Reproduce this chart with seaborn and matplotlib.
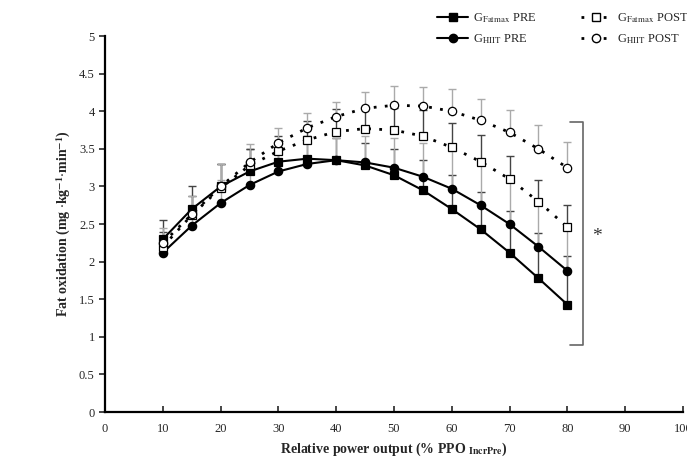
import matplotlib
matplotlib.use("Agg")
import matplotlib.pyplot as plt
import seaborn as sns
import numpy as np
import pandas as pd
from matplotlib.lines import Line2D

# data
power = [10, 15, 20, 25, 30, 35, 40, 45, 50, 55, 60, 65, 70, 75, 80]
fatmax_pre = [2.30, 2.70, 3.00, 3.20, 3.33, 3.37, 3.35, 3.28, 3.15, 2.95, 2.70, 2.43, 2.12, 1.78, 1.43]
hiit_pre = [2.12, 2.48, 2.78, 3.02, 3.20, 3.30, 3.35, 3.32, 3.25, 3.13, 2.97, 2.75, 2.50, 2.20, 1.88]
fatmax_post = [2.20, 2.62, 2.98, 3.28, 3.47, 3.62, 3.73, 3.77, 3.75, 3.67, 3.52, 3.33, 3.10, 2.80, 2.46]
hiit_post = [2.25, 2.63, 3.00, 3.32, 3.58, 3.78, 3.93, 4.04, 4.08, 4.07, 4.00, 3.88, 3.72, 3.50, 3.25]

sd_fatmax_pre = [0.25, 0.30, 0.30, 0.30, 0.28, 0.30, 0.30, 0.30, 0.35, 0.40, 0.45, 0.50, 0.55, 0.60, 0.65]
sd_hiit_pre = [0.20, 0.25, 0.30, 0.30, 0.30, 0.30, 0.30, 0.35, 0.40, 0.45, 0.50, 0.55, 0.60, 0.60, 0.60]
sd_fatmax_post = [0.20, 0.25, 0.32, 0.22, 0.20, 0.25, 0.30, 0.28, 0.30, 0.35, 0.33, 0.35, 0.30, 0.28, 0.30]
sd_hiit_post = [0.20, 0.25, 0.30, 0.25, 0.20, 0.20, 0.20, 0.22, 0.25, 0.25, 0.30, 0.28, 0.30, 0.32, 0.34]

labels = [r"G$_{\mathrm{Fatmax}}$ PRE", r"G$_{\mathrm{HIIT}}$ PRE",
          r"G$_{\mathrm{Fatmax}}$ POST", r"G$_{\mathrm{HIIT}}$ POST"]

sns.set_theme(style="white")
plt.rcParams["font.family"] = ["Liberation Serif", "DejaVu Serif"]
plt.rcParams["mathtext.fontset"] = "stix"

fig = plt.figure(figsize=(6.87, 4.63), dpi=100)
ax = fig.add_axes([0.153, 0.110, 0.841, 0.812])

series = [
    (fatmax_pre, sd_fatmax_pre, "s", "black", "-", "#444444"),
    (hiit_pre, sd_hiit_pre, "o", "black", "-", "#aaaaaa"),
    (fatmax_post, sd_fatmax_post, "s", "white", (0, (1, 3)), "#444444"),
    (hiit_post, sd_hiit_post, "o", "white", (0, (1, 3)), "#aaaaaa"),
]

handles = []
for (vals, sd, mk, fc, ls, ecol), lab in zip(series, labels):
    ax.errorbar(power, vals, yerr=[np.zeros(len(sd)), sd], fmt="none",
                ecolor=ecol, elinewidth=1.0, capsize=3, capthick=1.0, zorder=1)
    df = pd.DataFrame({"x": power, "y": vals})
    lw = 1.5 if ls == "-" else 2.0
    sns.lineplot(data=df, x="x", y="y", ax=ax, color="black", linestyle=ls,
                 linewidth=lw, marker=mk, markersize=6, markerfacecolor=fc,
                 markeredgecolor="black", markeredgewidth=0.9, zorder=3)
    handles.append(Line2D([], [], color="black", linestyle=ls, linewidth=lw,
                          marker=mk, markersize=6, markerfacecolor=fc,
                          markeredgecolor="black"))

# significance bracket
ax.plot([80.5, 82.7, 82.7, 80.5], [3.86, 3.86, 0.89, 0.89], color="#666666",
        linewidth=1.2, clip_on=False)
ax.text(85.1, 2.34, "*", fontsize=14, ha="center", va="center", color="#333333")

ax.set_xlim(0, 100)
ax.set_ylim(0, 5)
ax.set_xticks(range(0, 101, 10))
ax.set_yticks(np.arange(0, 5.01, 0.5))
ax.set_yticklabels(["0", "0.5", "1", "1.5", "2", "2.5", "3", "3.5", "4", "4.5", "5"])
ax.tick_params(axis="x", direction="in", length=4, width=1.2, labelsize=9, pad=8)
ax.tick_params(axis="y", direction="out", length=4, width=1.2, labelsize=9)
ax.tick_params(bottom=True, left=True)
for s in ["top", "right"]:
    ax.spines[s].set_visible(False)
for s in ["left", "bottom"]:
    ax.spines[s].set_color("black")
    ax.spines[s].set_linewidth(1.6)

ax.set_xlabel(r"Relative power output (% PPO $_{\mathbf{IncrPre}}$)",
              fontsize=10, fontweight="bold")
ax.set_ylabel(r"Fat oxidation (mg $\cdot$kg$^{\mathbf{-1}}$$\cdot$min$^{\mathbf{-1}}$)",
              fontsize=10, fontweight="bold")

fig.legend([handles[0], handles[1], handles[2], handles[3]],
           [labels[0], labels[1], labels[2], labels[3]],
           ncol=2, loc="upper left", bbox_to_anchor=(0.62, 1.0),
           frameon=False, fontsize=9, handlelength=2.5, columnspacing=3.5,
           labelspacing=0.6, handletextpad=0.4)

fig.savefig("out.png", dpi=100)
